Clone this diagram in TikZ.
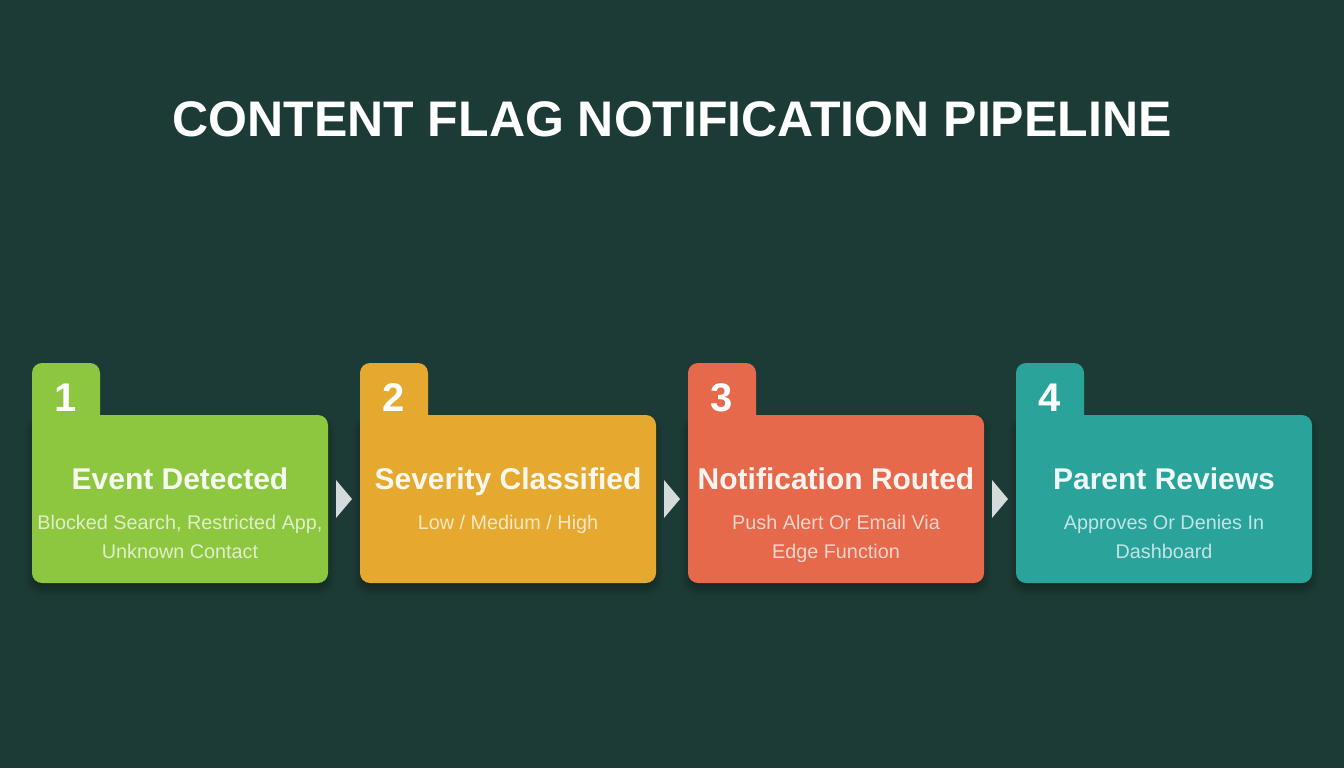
\documentclass[tikz,border=0pt]{standalone}
\usepackage{fontspec}
\setmainfont{Liberation Sans}
\usetikzlibrary{positioning, calc, shadows.blur}

\definecolor{bgdark}{HTML}{1D3B36}
\definecolor{cgreen}{HTML}{8DC63F}
\definecolor{corange}{HTML}{E5A92F}
\definecolor{cred}{HTML}{E5694A}
\definecolor{cteal}{HTML}{2AA39B}
\definecolor{arrowgray}{HTML}{D5DADA}

\begin{document}
\begin{tikzpicture}[x=0.5pt, y=-0.5pt, block/.style={rectangle,rounded corners=5pt,minimum width=148pt,minimum height=84pt,inner sep=0pt,outer sep=0pt,blur shadow={shadow blur steps=8,shadow xshift=0pt,shadow yshift=-3pt,shadow blur radius=4pt,shadow opacity=35}}, node distance = 16pt , tab/.style={rectangle,rounded corners=5pt,minimum width=34pt,minimum height=35pt,inner sep=0pt,outer sep=0pt,anchor=north west,text=white,font=\bfseries\fontsize{20}{24}\selectfont}, head/.style={anchor=base,inner sep=0pt,font=\bfseries\fontsize{15}{18}\selectfont}, sub/.style={anchor=north,inner sep=0pt,align=center,font=\fontsize{9.9}{14.5}\selectfont}  ]
\fill[bgdark] (0,0) rectangle (1344,768);
\useasboundingbox (0,0) rectangle (1344,768);
\node (title) [anchor=base, text=white, font=\bfseries\fontsize{25}{30}\selectfont] at (672,136) {CONTENT FLAG NOTIFICATION PIPELINE};
\node (b1) [block, fill=cgreen] at (180,499) {};
\node (b2) [block, fill=corange, right=of b1] {};
\node (b3) [block, fill=cred, right=of b2] {};
\node (b4) [block, fill=cteal, right=of b3] {};
\node (t1) [tab, fill=cgreen] at ($(b1.north west)+(0,-52)$) {1};
\node (t2) [tab, fill=corange] at ($(b2.north west)+(0,-52)$) {2};
\node (t3) [tab, fill=cred] at ($(b3.north west)+(0,-52)$) {3};
\node (t4) [tab, fill=cteal] at ($(b4.north west)+(0,-52)$) {4};
\node (h1) [head, text=white!92!cgreen] at ($(b1.center)+(0,-9.5)$) {Event Detected};
\node (h2) [head, text=white!92!corange] at ($(b2.center)+(0,-9.5)$) {Severity Classified};
\node (h3) [head, text=white!92!cred] at ($(b3.center)+(0,-9.5)$) {Notification Routed};
\node (h4) [head, text=white!92!cteal] at ($(b4.center)+(0,-9.5)$) {Parent Reviews};
\node (s1) [sub, text=white!72!cgreen] at ($(b1.center)+(0,16)$) {Blocked Search, Restricted App,\\Unknown Contact};
\node (s2) [sub, text=white!72!corange] at ($(b2.center)+(0,16)$) {Low / Medium / High};
\node (s3) [sub, text=white!72!cred] at ($(b3.center)+(0,16)$) {Push Alert Or Email Via\\Edge Function};
\node (s4) [sub, text=white!72!cteal] at ($(b4.center)+(0,16)$) {Approves Or Denies In\\Dashboard};
  \begin{scope}
    \fill [arrowgray] ($(b1.east)!0.5!(b2.west)$) +(-8,-19) -- +(8,0) -- +(-8,19) -- cycle;
    \fill [arrowgray] ($(b2.east)!0.5!(b3.west)$) +(-8,-19) -- +(8,0) -- +(-8,19) -- cycle;
    \fill [arrowgray] ($(b3.east)!0.5!(b4.west)$) +(-8,-19) -- +(8,0) -- +(-8,19) -- cycle;
  \end{scope}
\end{tikzpicture}
\end{document}
